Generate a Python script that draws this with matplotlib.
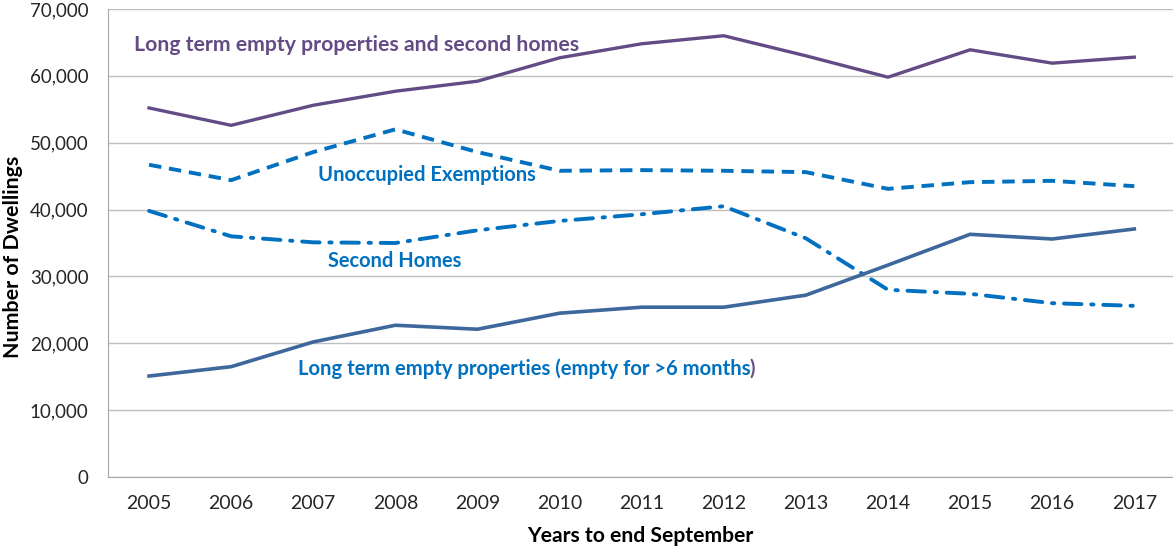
import matplotlib
matplotlib.use("Agg")
import matplotlib.pyplot as plt
import numpy as np

years = ["2005", "2006", "2007", "2008", "2009", "2010", "2011", "2012", "2013", "2014", "2015", "2016", "2017"]
total = [55200, 52600, 55600, 57700, 59200, 62700, 64800, 66000, 63000, 59800, 63900, 61900, 62800]
unoccupied = [46700, 44400, 48600, 52000, 48600, 45800, 45900, 45800, 45600, 43100, 44100, 44300, 43500]
second_homes = [39800, 36000, 35100, 35000, 36900, 38300, 39300, 40500, 35700, 28000, 27400, 26000, 25600]
long_term = [15100, 16500, 20200, 22700, 22100, 24500, 25400, 25400, 27200, 31700, 36300, 35600, 37100]

plt.rcParams['font.family'] = ['Lato', 'DejaVu Sans']

W, H = 1173, 546
fig = plt.figure(figsize=(W/100, H/100), dpi=100)
ax = fig.add_axes([108/W, 1-477/H, 1-108/W + 0.002, (477-9)/H])

x = np.arange(len(years))
purple = "#634C85"
blue = "#0070C0"
steel = "#3E689C"

ax.plot(x, total, color=purple, lw=2.4)
ax.plot(x, unoccupied, color=blue, lw=2.8, dashes=(3.2, 2.0))
ax.plot(x, second_homes, color=blue, lw=2.8, dashes=(4.5, 2.5, 0.6, 2.5), dash_capstyle='round')
ax.plot(x, long_term, color=steel, lw=2.6)

ax.set_xlim(-0.5, 12.5)
ax.set_ylim(0, 70000)
ax.set_yticks(np.arange(0, 70001, 10000))
ax.set_yticklabels([f"{v:,}" for v in range(0, 70001, 10000)])
ax.set_xticks(x)
ax.set_xticklabels(years)
ax.tick_params(length=0, colors="#262626")
ax.tick_params(axis='x', labelsize=14, pad=13)
ax.tick_params(axis='y', labelsize=13.5, pad=14)
ax.grid(axis='y', color="#BFBFBF", lw=1)
ax.set_axisbelow(True)
for s in ['top', 'right']:
    ax.spines[s].set_visible(False)
for s in ['left', 'bottom']:
    ax.spines[s].set_color("#A6A6A6")

renderer = fig.canvas.get_renderer()

def fig_text(s, x0, x1, color="black", rotation=0):
    t = fig.text(0, 0, s, color=color, fontweight='bold', fontsize=12,
                 ha='center', va='center', rotation=rotation)
    bb = t.get_window_extent(renderer)
    length = bb.height if rotation == 90 else bb.width
    t.set_fontsize(12 * (x1 - x0) / length)
    return t

def place(t, xc, yc):
    t.set_position((xc / W, 1 - yc / H))

t = fig_text("Number of Dwellings", 157, 358, rotation=90)
place(t, 13, 257)
t = fig_text("Years to end September", 528, 753)
place(t, 640, 536)

t = fig_text("Long term empty properties and second homes", 135, 578, color=purple)
place(t, (135 + 578) / 2, 45)
t = fig_text("Unoccupied Exemptions", 318, 535, color=blue)
place(t, (318 + 535) / 2, 175)
t = fig_text("Second Homes", 328, 461, color=blue)
place(t, (328 + 461) / 2, 261)
t = fig_text("Long term empty properties (empty for >6 months", 298, 750, color=blue)
place(t, (298 + 750) / 2, 369)
fig.text(749 / W, 1 - 369 / H, ")", color=purple, fontweight='bold',
         fontsize=t.get_fontsize(), ha='left', va='center')

fig.savefig("out.png", dpi=100)
